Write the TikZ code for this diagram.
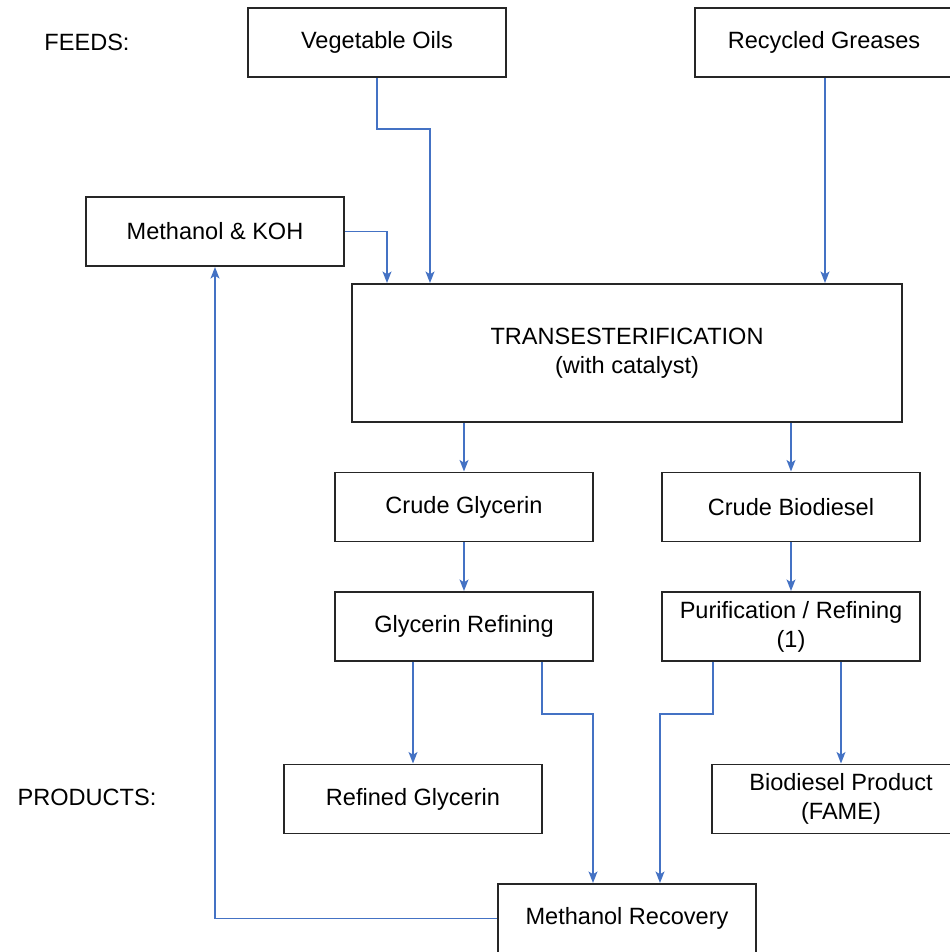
\documentclass[tikz,border=0pt]{standalone}
\usepackage{fontspec}
\setmainfont{Liberation Sans}
\usepackage{tikz}
\usetikzlibrary{arrows.meta, positioning, calc}
\definecolor{flowblue}{RGB}{68,114,196}

\begin{document}
\begin{tikzpicture}[
  box/.style={rectangle, draw=black!85, line width=1.1pt, fill=white,
              minimum width=5.16cm, minimum height=1.38cm, inner sep=0pt,
              align=center, font=\fontsize{13.4}{16.4}\selectfont},
  tag/.style={font=\fontsize{13.4}{16.4}\selectfont},
  arrow/.style={-{Stealth[length=6.5pt, width=5pt, inset=1.5pt]},
                draw=flowblue, line width=1.1pt}
]
  \useasboundingbox (0,0) rectangle (19,-19.04);

  \node[tag] (feeds) at (1.74,-0.84)  {FEEDS:};
  \node[tag] (prods) at (1.74,-15.94) {PRODUCTS:};

  \node[box] (veg)  at (7.54,-0.85)  {Vegetable Oils};
  \node[box] (rec)  at (16.48,-0.85) {Recycled Greases};
  \node[box] (meth) at (4.30,-4.63)  {Methanol \& KOH};
  \node[box, minimum width=11cm, minimum height=2.76cm] (trans) at (12.54,-7.06)
    {TRANSESTERIFICATION\\(with catalyst)};
  \node[box] (cglyc) at (9.28,-10.14)  {Crude Glycerin};
  \node[box] (cbio)  at (15.82,-10.14) {Crude Biodiesel};
  \node[box] (gref)  at (9.28,-12.53)  {Glycerin Refining};
  \node[box] (purif) at (15.82,-12.53) {Purification / Refining\\(1)};
  \node[box] (rglyc) at (8.26,-15.98)  {Refined Glycerin};
  \node[box] (bprod) at (16.82,-15.98) {Biodiesel Product\\(FAME)};
  \node[box] (mrec)  at (12.54,-18.37) {Methanol Recovery};

  % feeds into the reactor
  \draw[arrow] (veg.south) -- ++(0,-1.02) -| ([xshift=-3.94cm]trans.north);
  \draw[arrow] (meth.east) -| ([xshift=-4.8cm]trans.north);
  \draw[arrow] ([xshift=0.02cm]rec.south) -- ([xshift=0.02cm]rec.south |- trans.north);

  % reactor outputs
  \draw[arrow] (cglyc.north |- trans.south) -- (cglyc.north);
  \draw[arrow] (cbio.north |- trans.south) -- (cbio.north);
  \draw[arrow] (cglyc) -- (gref);
  \draw[arrow] (cbio) -- (purif);

  % refining to products
  \draw[arrow] (rglyc.north |- gref.south) -- (rglyc.north);
  \draw[arrow] (bprod.north |- purif.south) -- (bprod.north);

  % methanol recycle
  \draw[arrow] ([xshift=1.56cm]gref.south) -- ++(0,-1.04) -| ([xshift=-0.68cm]mrec.north);
  \draw[arrow] ([xshift=-1.56cm]purif.south) -- ++(0,-1.04) -| ([xshift=0.66cm]mrec.north);
  \draw[arrow] (mrec.west) -| (meth.south);
\end{tikzpicture}
\end{document}
